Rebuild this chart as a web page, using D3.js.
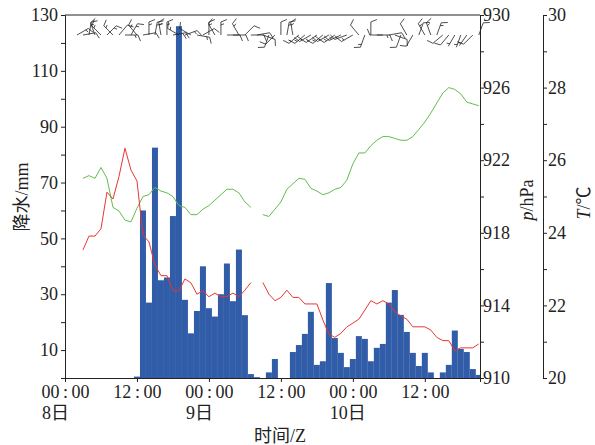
<!DOCTYPE html>
<html>
<head>
<meta charset="utf-8">
<script src="https://cdn.jsdelivr.net/npm/d3@7"></script>
<style>
  html, body { margin: 0; padding: 0; background: #fff; }
  #chart { width: 595px; height: 445px; }
  text { font-family: "Liberation Serif", "Noto Sans CJK SC", serif; fill: #222; }
</style>
</head>
<body>
<div id="chart"></div>
<script>
// hourly precipitation (hour from 8日 00Z, value mm)
const rainHours = d3.range(12, 70);
const rainValues = [0.5, 60, 27, 82.5, 35, 36, 58, 126, 28, 16, 24, 40, 25, 22, 30, 41, 27.5, 46, 22.5,
  1.4, 0.3, 0, 2, 6.8, 0, 0, 9.3, 11.8, 15.8, 23.7, 4.7, 6, 34, 14.3, 9, 3.9, 6.8, 15, 14, 6,
  10.8, 12.2, 27, 31.5, 22.6, 16.5, 9, 4.3, 9, 2, 0, 2, 4.7, 17, 10.4, 9.3, 3.2, 1.1];

// temperature (℃) and pressure (hPa), hours 3..69, null = missing
const lineHours = d3.range(3, 70);
const tempValues = [23.53, 23.91, 23.91, 24.11, 25.12, 24.93, 25.55, 26.33, 25.73, 25.43,
  23.94, 23.75, 23.11, 22.82, 22.82, 22.40, 22.40, 22.73, 22.62, 22.31, 22.40, 22.24, 22.34,
  22.24, 22.24, 22.34, 22.24, 22.42, 22.63, null, 22.63, 22.31, 22.13, 22.22, 22.42, 22.22,
  22.22, 22.04, 22.04, 22.04, 21.60, 21.21, 21.12, 21.23, 21.41, 21.51, 21.62, 21.87, 22.13,
  22.04, 22.13, 22.04, 21.82, 21.71, 21.62, 21.41, 21.41, 21.41, 21.32, 21.12, 21.03, 21.03,
  20.75, 20.83, 20.83, 20.83, 20.94];
const presValues = [921.0, 921.15, 921.0, 921.6, 921.0, 919.4, 919.2, 918.7, 918.6, 919.35,
  920.0, 920.1, 920.5, 920.3, 920.2, 920.0, 919.5, 919.4, 919.0, 919.0, 919.3, 919.5, 919.8,
  920.1, 920.4, 920.4, 920.2, 919.7, 919.4, null, 919.0, 918.9, 919.3, 919.7, 920.4, 920.7,
  921.0, 920.95, 920.45, 920.3, 920.1, 920.2, 920.4, 920.5, 920.9, 921.8, 922.4, 922.4, 922.8,
  923.1, 923.3, 923.3, 923.2, 923.1, 923.1, 923.3, 923.7, 924.1, 924.6, 925.15, 925.7, 926.0,
  925.9, 925.65, 925.2, 925.1, 925.0];

// wind barbs: hours 2..69, direction (deg, from) and speed (m/s)
const windHours = d3.range(2, 70);
const windDir = [60, 80, 10, 340, 315, 45, 315, 40, 90, 30, 320, 80, 0, 10, 350, 0, 80, 300,
  70, 300, 100, 60, 0, 330, 0, 90, 90, 330, 45, 90, 80, 110, 200, 225, 0, 10, 350, 230, 230,
  240, 235, 230, 240, 235, 245, 250, 240, 320, 200, 0, 90, 270, 80, 110, 200, 330, 210, 20,
  330, 340, 20, 230, 220, 210, 200, 215, 225, 20];
const windSpd = [6, 4, 6, 4, 6, 6, 6, 4, 6, 6, 6, 4, 6, 8, 6, 6, 8, 6, 6, 4, 6, 4, 6, 4, 6, 4,
  4, 6, 4, 4, 4, 4, 4, 4, 4, 6, 6, 6, 6, 8, 6, 6, 8, 6, 6, 6, 6, 4, 6, 4, 6, 4, 4, 4, 4, 4, 4,
  4, 6, 6, 6, 4, 4, 2, 2, 2, 4, 4];

const xTicks = [0, 12, 24, 36, 48, 60];
const xTickLabels = ["00\u2009:\u200900", "12\u2009:\u200900", "00\u2009:\u200900",
  "12\u2009:\u200900", "00\u2009:\u200900", "12\u2009:\u200900"];
const dayTicks = [0, 24, 48];
const dayLabels = ["8日", "9日", "10日"];

const width = 595, height = 445;
const m = {left: 65, right: 480, top: 15, bottom: 378};
const fontSize = 18;

const svg = d3.select("#chart").append("svg")
    .attr("width", width)
    .attr("height", height);

const x = d3.scaleLinear().domain([0, 69.2]).range([m.left, m.right]);
const yRain = d3.scaleLinear().domain([0, 130]).range([m.bottom, m.top]);
const yP = d3.scaleLinear().domain([910, 930]).range([m.bottom, m.top]);
const yT = d3.scaleLinear().domain([20, 30]).range([m.bottom, m.top]);

svg.append("clipPath").attr("id", "clip")
  .append("rect").attr("x", m.left).attr("y", m.top)
  .attr("width", m.right - m.left).attr("height", m.bottom - m.top);

const plot = svg.append("g").attr("clip-path", "url(#clip)");

// bars
plot.append("g").selectAll("rect")
  .data(rainHours.map((h, i) => ({h, v: rainValues[i]})).filter(d => d.v > 0))
  .join("rect")
    .attr("x", d => x(d.h - 0.5))
    .attr("width", d => x(d.h + 0.5) - x(d.h - 0.5))
    .attr("y", d => yRain(d.v))
    .attr("height", d => yRain(0) - yRain(d.v))
    .attr("fill", "#315ca8");

// lines
const presLine = d3.line().defined(d => d.v != null).x(d => x(d.h)).y(d => yP(d.v));
const tempLine = d3.line().defined(d => d.v != null).x(d => x(d.h)).y(d => yT(d.v));

plot.append("path")
    .datum(lineHours.map((h, i) => ({h, v: presValues[i]})))
    .attr("d", presLine)
    .attr("fill", "none")
    .attr("stroke", "#62be4c")
    .attr("stroke-width", 1);

plot.append("path")
    .datum(lineHours.map((h, i) => ({h, v: tempValues[i]})))
    .attr("d", tempLine)
    .attr("fill", "none")
    .attr("stroke", "#ea3530")
    .attr("stroke-width", 1);

// wind barbs
const barbY = 35, staffLen = 13;
const barbs = svg.append("g").attr("stroke", "#222").attr("stroke-width", 0.8).attr("fill", "none");
windHours.forEach((h, i) => {
  const a = windDir[i] * Math.PI / 180;
  const ux = Math.sin(a), uy = -Math.cos(a);
  const px = -uy, py = ux;
  const bx = x(h), by = barbY;
  const ex = bx + staffLen * ux, ey = by + staffLen * uy;
  let path = `M${bx},${by}L${ex},${ey}`;
  let s = windSpd[i], k = 0;
  while (s >= 4) {
    const sx = ex - k * 3 * ux, sy = ey - k * 3 * uy;
    path += `M${sx},${sy}l${6 * px + 2.5 * ux},${6 * py + 2.5 * uy}`;
    s -= 4; k++;
  }
  if (s >= 2) {
    if (k === 0) k = 1;
    const sx = ex - k * 3 * ux, sy = ey - k * 3 * uy;
    path += `M${sx},${sy}l${3 * px + 1.2 * ux},${3 * py + 1.2 * uy}`;
  }
  barbs.append("path").attr("d", path);
});

// frame: top line
svg.append("line")
    .attr("x1", m.left).attr("x2", m.right).attr("y1", m.top).attr("y2", m.top)
    .attr("stroke", "#222").attr("stroke-width", 1);

function styleAxis(g) {
  g.selectAll(".domain").attr("stroke", "#222");
  g.selectAll(".tick line").attr("stroke", "#222");
  g.selectAll("text").attr("font-family", '"Liberation Serif", "Noto Sans CJK SC", serif')
    .attr("font-size", fontSize).attr("fill", "#222");
}

// left axis
svg.append("g")
    .attr("transform", `translate(${m.left},0)`)
    .call(d3.axisLeft(yRain).tickValues(d3.range(0, 131, 10)).tickSizeOuter(0).tickSize(4)
      .tickFormat(d => (d / 10) % 2 === 1 ? d : ""))
    .call(styleAxis);

// bottom axis
svg.append("g")
    .attr("transform", `translate(0,${m.bottom})`)
    .call(d3.axisBottom(x).tickValues(xTicks).tickSizeOuter(0).tickSize(4)
      .tickFormat((d, i) => xTickLabels[i]))
    .call(styleAxis);

svg.append("g").selectAll("text")
  .data(dayTicks)
  .join("text")
    .attr("x", d => x(d) - 23)
    .attr("y", 419)
    .attr("font-size", fontSize)
    .text((d, i) => dayLabels[i]);

// pressure axis
svg.append("g")
    .attr("transform", `translate(${m.right},0)`)
    .call(d3.axisRight(yP).tickValues(d3.range(910, 931, 2)).tickSizeOuter(0).tickSize(4)
      .tickFormat(d => (d - 910) % 4 === 0 ? d : ""))
    .call(styleAxis)
    .call(g => g.selectAll(".tick text").attr("x", 3));

// temperature axis
svg.append("g")
    .attr("transform", "translate(543,0)")
    .call(d3.axisRight(yT).tickValues(d3.range(20, 31, 1)).tickSizeOuter(0).tickSize(4)
      .tickFormat(d => d % 2 === 0 ? d : ""))
    .call(styleAxis)
    .call(g => g.selectAll(".tick text").attr("x", 5));

// axis titles
svg.append("text")
    .attr("transform", "translate(28,197) rotate(-90)")
    .attr("text-anchor", "middle")
    .attr("font-size", fontSize)
    .text("降水/mm");

const pt = svg.append("text")
    .attr("transform", "translate(533,200) rotate(-90)")
    .attr("text-anchor", "middle")
    .attr("font-size", fontSize);
pt.append("tspan").attr("font-style", "italic").text("p");
pt.append("tspan").text("/hPa");

const tt = svg.append("text")
    .attr("transform", "translate(590,203) rotate(-90)")
    .attr("text-anchor", "middle")
    .attr("font-size", fontSize);
tt.append("tspan").attr("font-style", "italic").text("T");
tt.append("tspan").text("/℃");

svg.append("text")
    .attr("x", 280)
    .attr("y", 442)
    .attr("text-anchor", "middle")
    .attr("font-size", fontSize)
    .text("时间/Z");
</script>
</body>
</html>
